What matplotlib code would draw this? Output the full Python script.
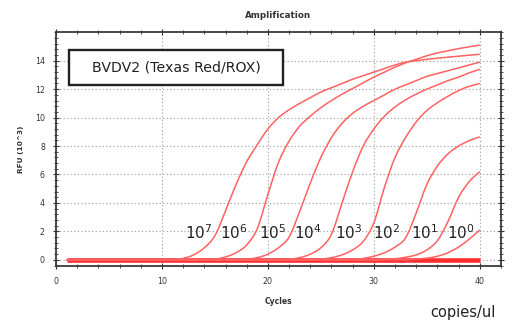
import matplotlib
matplotlib.use('Agg')
import matplotlib.pyplot as plt
from matplotlib.ticker import MultipleLocator
from matplotlib.patches import Rectangle, PathPatch
from matplotlib.path import Path

# ---------------- data ----------------
cycles = [1, 2, 3, 4, 5, 6, 7, 8, 9, 10,
          11, 12, 13, 14, 15, 16, 17, 18, 19, 20,
          21, 22, 23, 24, 25, 26, 27, 28, 29, 30,
          31, 32, 33, 34, 35, 36, 37, 38, 39, 40]

rfu_1e7 = [0.0, 0.0, 0.0, 0.0, 0.0, 0.0, 0.0, 0.0, 0.0, 0.0,
           0.02, 0.1, 0.35, 0.85, 1.7, 3.45, 5.3, 6.9, 8.1, 9.2,
           10.0, 10.55, 11.0, 11.4, 11.8, 12.1, 12.4, 12.7, 12.95, 13.2,
           13.45, 13.7, 13.9, 14.0, 14.1, 14.18, 14.25, 14.32, 14.39, 14.45]
rfu_1e6 = [0.0, 0.0, 0.0, 0.0, 0.0, 0.0, 0.0, 0.0, 0.0, 0.0,
           0.0, 0.0, 0.0, 0.0, 0.05, 0.2, 0.5, 1.05, 2.2, 4.6,
           6.85, 8.35, 9.4, 10.1, 10.7, 11.2, 11.65, 12.05, 12.45, 12.85,
           13.2, 13.55, 13.85, 14.1, 14.35, 14.55, 14.7, 14.85, 14.98, 15.1]
rfu_1e5 = [0.0, 0.0, 0.0, 0.0, 0.0, 0.0, 0.0, 0.0, 0.0, 0.0,
           0.0, 0.0, 0.0, 0.0, 0.0, 0.0, 0.0, 0.05, 0.15, 0.4,
           0.85, 1.6, 3.4, 5.4, 7.2, 8.6, 9.6, 10.3, 10.8, 11.2,
           11.6, 12.0, 12.3, 12.6, 12.9, 13.1, 13.3, 13.5, 13.7, 13.9]
rfu_1e4 = [0.0, 0.0, 0.0, 0.0, 0.0, 0.0, 0.0, 0.0, 0.0, 0.0,
           0.0, 0.0, 0.0, 0.0, 0.0, 0.0, 0.0, 0.0, 0.0, 0.0,
           0.0, 0.05, 0.15, 0.4, 0.85, 1.8, 4.0, 6.2, 8.0, 9.2,
           10.1, 10.75, 11.25, 11.65, 12.0, 12.3, 12.6, 12.85, 13.15, 13.4]
rfu_1e3 = [0.0, 0.0, 0.0, 0.0, 0.0, 0.0, 0.0, 0.0, 0.0, 0.0,
           0.0, 0.0, 0.0, 0.0, 0.0, 0.0, 0.0, 0.0, 0.0, 0.0,
           0.0, 0.0, 0.0, 0.0, 0.05, 0.15, 0.35, 0.7, 1.3, 2.6,
           5.1, 7.2, 8.6, 9.7, 10.5, 11.05, 11.5, 11.9, 12.2, 12.4]
rfu_1e2 = [0.0, 0.0, 0.0, 0.0, 0.0, 0.0, 0.0, 0.0, 0.0, 0.0,
           0.0, 0.0, 0.0, 0.0, 0.0, 0.0, 0.0, 0.0, 0.0, 0.0,
           0.0, 0.0, 0.0, 0.0, 0.0, 0.0, 0.0, 0.05, 0.1, 0.25,
           0.5, 0.9, 1.55, 3.3, 5.3, 6.6, 7.45, 8.0, 8.38, 8.65]
rfu_1e1 = [0.0, 0.0, 0.0, 0.0, 0.0, 0.0, 0.0, 0.0, 0.0, 0.0,
           0.0, 0.0, 0.0, 0.0, 0.0, 0.0, 0.0, 0.0, 0.0, 0.0,
           0.0, 0.0, 0.0, 0.0, 0.0, 0.0, 0.0, 0.0, 0.0, 0.0,
           0.03, 0.08, 0.18, 0.35, 0.7, 1.35, 2.7, 4.4, 5.5, 6.2]
rfu_1e0 = [0.0, 0.0, 0.0, 0.0, 0.0, 0.0, 0.0, 0.0, 0.0, 0.0,
           0.0, 0.0, 0.0, 0.0, 0.0, 0.0, 0.0, 0.0, 0.0, 0.0,
           0.0, 0.0, 0.0, 0.0, 0.0, 0.0, 0.0, 0.0, 0.0, 0.0,
           0.0, 0.0, 0.0, 0.05, 0.12, 0.25, 0.5, 0.9, 1.45, 2.1]
rfu_ntc = [0.0, 0.0, 0.0, 0.0, 0.0, 0.0, 0.0, 0.0, 0.0, 0.0,
           0.0, 0.0, 0.0, 0.0, 0.0, 0.0, 0.0, 0.0, 0.0, 0.0,
           0.0, 0.0, 0.0, 0.0, 0.0, 0.0, 0.0, 0.0, 0.0, 0.0,
           0.0, 0.0, 0.0, 0.0, 0.0, 0.0, 0.0, 0.0, 0.0, 0.0]

series = [rfu_1e7, rfu_1e6, rfu_1e5, rfu_1e4, rfu_1e3, rfu_1e2, rfu_1e1, rfu_1e0]
conc_exponents = ['7', '6', '5', '4', '3', '2', '1', '0']
label_cycles = [12.2, 15.5, 19.2, 22.5, 26.3, 29.9, 33.5, 36.9]

title = 'Amplification'
xlabel = 'Cycles'
ylabel = 'RFU (10^3)'
box_text = 'BVDV2 (Texas Red/ROX)'
unit_text = 'copies/ul'


def smooth_path(xs, ys):
    """Cubic Bezier path through the measured points (Catmull-Rom tangents)."""
    n = len(xs)
    verts = [(xs[0], ys[0])]
    codes = [Path.MOVETO]
    for i in range(n - 1):
        x0, y0 = (xs[i - 1], ys[i - 1]) if i > 0 else (xs[i], ys[i])
        x1, y1 = xs[i], ys[i]
        x2, y2 = xs[i + 1], ys[i + 1]
        x3, y3 = (xs[i + 2], ys[i + 2]) if i + 2 < n else (x2, y2)
        c1 = (x1 + (x2 - x0) / 6.0, y1 + (y2 - y0) / 6.0)
        c2 = (x2 - (x3 - x1) / 6.0, y2 - (y3 - y1) / 6.0)
        verts += [c1, c2, (x2, y2)]
        codes += [Path.CURVE4, Path.CURVE4, Path.CURVE4]
    return Path(verts, codes)


# ---------------- figure ----------------
W, H = 522, 322
fig = plt.figure(figsize=(W / 100, H / 100), dpi=100)
fig.patch.set_facecolor('white')
ax = fig.add_axes([56 / W, 1 - 265.5 / H, (501 - 56) / W, (265.5 - 32.3) / H])

line_color = '#ff6262'
ax.plot(cycles, rfu_ntc, color='#ff2e2e', lw=3.3, solid_capstyle='butt', zorder=3)
for s in series:
    ax.add_patch(PathPatch(smooth_path(cycles, s), facecolor='none',
                           edgecolor=line_color, lw=1.1, zorder=4))

ax.set_xlim(0, 42)
ax.set_ylim(-0.4, 16)
ax.xaxis.set_major_locator(MultipleLocator(10))
ax.xaxis.set_minor_locator(MultipleLocator(2))
ax.yaxis.set_major_locator(MultipleLocator(2))
ax.yaxis.set_minor_locator(MultipleLocator(0.4))
ax.set_yticks([0, 2, 4, 6, 8, 10, 12, 14])

ax.tick_params(which='both', direction='inout', colors='#333333',
               top=True, right=True, labelsize=5.7)
ax.tick_params(which='major', length=4, width=0.8)
ax.tick_params(which='minor', length=2.5, width=0.6)
ax.tick_params(axis='y', which='major', pad=6)
ax.tick_params(axis='x', which='major', pad=6)
for lab in ax.get_xticklabels() + ax.get_yticklabels():
    lab.set_color('#333333')

ax.grid(True, which='major', color='#9a9a9a', linestyle=(0, (1, 2.2)), lw=0.8)
ax.set_axisbelow(True)
for sp in ax.spines.values():
    sp.set_color('#3a3a3a')
    sp.set_linewidth(1.3)

fig.text(0.5 * (56 + 501) / W, 1 - 16 / H, title, ha='center', va='center',
         fontsize=6.3, fontweight='bold', color='#333333')
fig.text(278 / W, 1 - 302 / H, xlabel, ha='center', va='center',
         fontsize=5.5, fontweight='bold', color='#333333')
fig.text(21 / W, 1 - 149 / H, ylabel, ha='center', va='center', rotation=90,
         fontsize=5.3, fontweight='bold', color='#333333')

# text box
fig.patches.append(Rectangle((69 / W, 1 - 85 / H), (283 - 69) / W, (85 - 50) / H,
                             transform=fig.transFigure, fill=True, facecolor='white',
                             edgecolor='#222222', lw=1.7, zorder=5))
fig.text(176 / W, 1 - 68 / H, box_text, ha='center', va='center',
         fontsize=10.2, color='#222222', zorder=6)

for xc, e in zip(label_cycles, conc_exponents):
    ax.text(xc, 1.45, r'$\mathregular{10^{%s}}$' % e, ha='left', va='baseline',
            fontsize=11, color='#222222', zorder=6, family='DejaVu Sans')

fig.text(430 / W, 1 - 312 / H, unit_text, ha='left', va='center',
         fontsize=10.5, color='#222222')

fig.savefig('out.png', dpi=100, facecolor='white')
